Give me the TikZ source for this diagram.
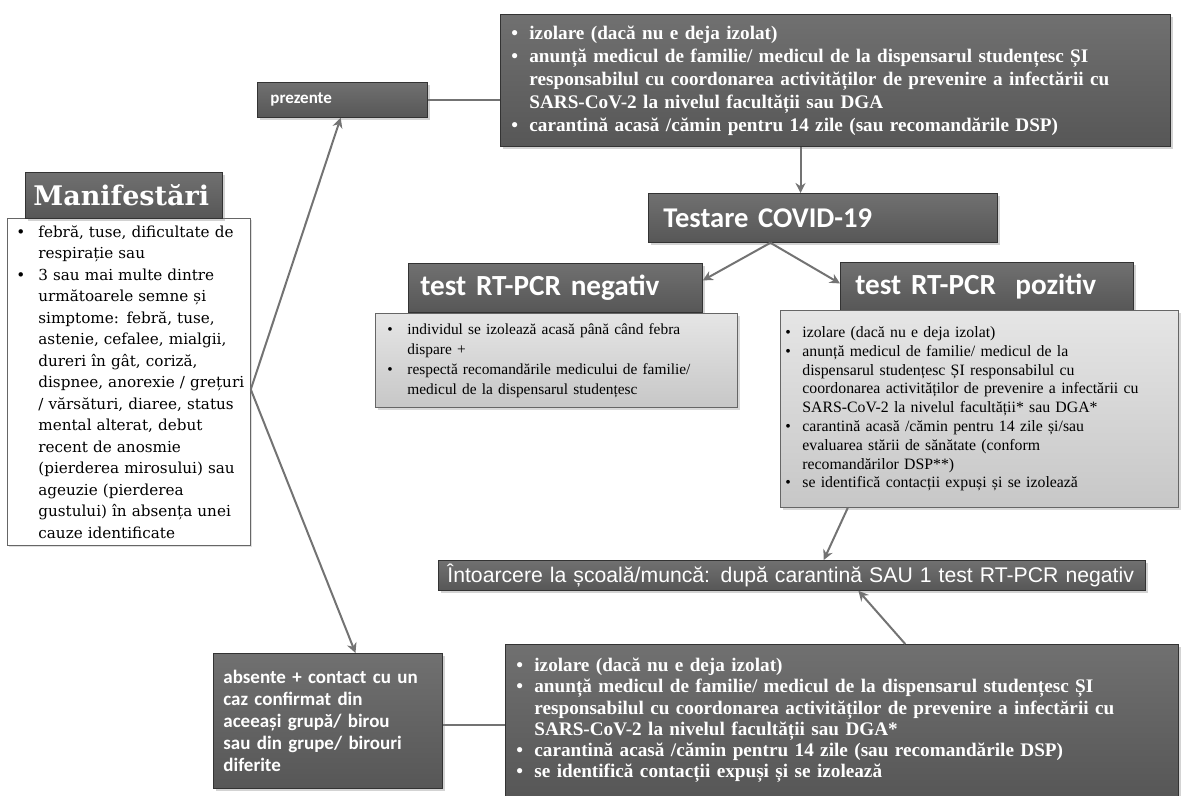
\documentclass[tikz,border=0pt]{standalone}
\usepackage{fontspec}
\setmainfont{Liberation Serif}
\newfontfamily\carlito{Carlito}
\newfontfamily\dvserif{DejaVu Serif}
\newfontfamily\libsans{Liberation Sans}
\usetikzlibrary{arrows.meta,shadows,calc}

\newlength{\du}
\setlength{\du}{0.5pt}
\newlength{\bulw}
\newcommand{\itm}[1]{\mbox{\makebox[\bulw][l]{\textbullet}#1}}
\newcommand{\cnt}[1]{\mbox{\hspace*{\bulw}#1}}

\definecolor{darktop}{rgb}{0.44,0.44,0.44}
\definecolor{darkbot}{rgb}{0.34,0.34,0.34}
\definecolor{lighttop}{rgb}{0.90,0.90,0.90}
\definecolor{lightbot}{rgb}{0.78,0.78,0.78}
\definecolor{linecolor}{rgb}{0.45,0.45,0.45}

\tikzset{
  darkbox/.style={draw=black!80, line width=0.4pt, top color=darktop, bottom color=darkbot,
    text=white, anchor=north west, inner ysep=0pt, align=left,
    drop shadow={opacity=0.35, shadow xshift=1.2pt, shadow yshift=-1.2pt}},
  lightbox/.style={draw=black!60, line width=0.4pt, top color=lighttop, bottom color=lightbot,
    anchor=north west, inner ysep=0pt, align=left,
    drop shadow={opacity=0.3, shadow xshift=1.2pt, shadow yshift=-1.2pt}},
  whitebox/.style={draw=black!60, line width=0.4pt, fill=white, anchor=north west,
    inner ysep=0pt, align=left,
    drop shadow={opacity=0.25, shadow xshift=1pt, shadow yshift=-1pt}},
  conn/.style={draw=linecolor, line width=1pt},
  arr/.style={conn, -{Stealth[length=5pt, width=5pt]}},
}

\begin{document}
\begin{tikzpicture}
\pgftransformyscale{-1.000000}
\useasboundingbox (0\du,0\du) rectangle (1183\du,796\du);

% left column
\node[whitebox, inner xsep=9\du, text width=225\du, minimum height=327\du,
  font={\setlength{\bulw}{22\du}\dvserif\fontsize{7.6}{10.75}\selectfont}]
  (manibox) at (7\du,218\du) {%
\itm{febră, tuse, dificultate de}\\
\cnt{respirație sau}\\
\itm{3 sau mai multe dintre}\\
\cnt{următoarele semne și}\\
\cnt{simptome: febră, tuse,}\\
\cnt{astenie, cefalee, mialgii,}\\
\cnt{dureri în gât, coriză,}\\
\cnt{dispnee, anorexie / grețuri}\\
\cnt{/ vărsături, diaree, status}\\
\cnt{mental alterat, debut}\\
\cnt{recent de anosmie}\\
\cnt{(pierderea mirosului) sau}\\
\cnt{ageuzie (pierderea}\\
\cnt{gustului) în absența unei}\\
\cnt{cauze identificate}};
\node[darkbox, inner xsep=8\du, text width=181\du, minimum height=46\du,
  font={\dvserif\bfseries\fontsize{13.5}{15}\selectfont}]
  (manihd) at (25\du,172\du) {Manifestări};
\coordinate (fork) at ($(manibox.north east)!0.523!(manibox.south east)$);

% prezente branch
\node[darkbox, inner xsep=13\du, text width=144\du, minimum height=35\du,
  font={\carlito\bfseries\fontsize{8.5}{10}\selectfont}]
  (prez) at (257\du,82\du) {prezente};
\node[darkbox, inner xsep=11\du, text width=648\du, minimum height=132\du,
  font={\setlength{\bulw}{18\du}\bfseries\fontsize{9.6}{11.5}\selectfont}]
  (izol) at (500\du,14\du) {%
\itm{izolare (dacă nu e deja izolat)}\\
\itm{anunță medicul de familie/ medicul de la dispensarul studențesc ȘI}\\
\cnt{responsabilul cu coordonarea activităților de prevenire a infectării cu}\\
\cnt{SARS-CoV-2 la nivelul facultății sau DGA}\\
\itm{carantină acasă /cămin pentru 14 zile (sau recomandările DSP)}};

% testing
\node[darkbox, inner xsep=15\du, text width=319\du, minimum height=49\du,
  font={\carlito\bfseries\fontsize{14.3}{16}\selectfont}]
  (test) at (648\du,193\du) {Testare COVID-19};
\node[darkbox, inner xsep=12\du, text width=270\du, minimum height=49\du,
  font={\carlito\bfseries\fontsize{14.6}{16}\selectfont}]
  (neghd) at (408\du,263\du) {test RT-PCR negativ};
\node[lightbox, inner xsep=12\du, text width=338\du, minimum height=94\du,
  font={\setlength{\bulw}{20\du}\fontsize{7.7}{10}\selectfont}]
  (negbox) at (375\du,313\du) {%
\itm{individul se izolează acasă până când febra}\\
\cnt{dispare +}\\
\itm{respectă recomandările medicului de familie/}\\
\cnt{medicul de la dispensarul studențesc}};
\node[darkbox, inner xsep=15\du, text width=263\du, minimum height=48\du,
  font={\carlito\bfseries\fontsize{14.6}{16}\selectfont}]
  (poshd) at (840\du,262\du) {test RT-PCR~~pozitiv};
\node[lightbox, inner xsep=5\du, text width=388\du, minimum height=197\du,
  font={\setlength{\bulw}{17\du}\fontsize{7.9}{9.4}\selectfont}]
  (posbox) at (780\du,310\du) {%
\itm{izolare (dacă nu e deja izolat)}\\
\itm{anunță medicul de familie/ medicul de la}\\
\cnt{dispensarul studențesc ȘI responsabilul cu}\\
\cnt{coordonarea activităților de prevenire a infectării cu}\\
\cnt{SARS-CoV-2 la nivelul facultății* sau DGA*}\\
\itm{carantină acasă /cămin pentru 14 zile și/sau}\\
\cnt{evaluarea stării de sănătate (conform}\\
\cnt{recomandărilor DSP**)}\\
\itm{se identifică contacții expuși și se izolează}};

% return
\node[darkbox, inner xsep=9\du, text width=689\du, minimum height=30\du,
  font={\libsans\fontsize{10.6}{12}\selectfont}]
  (back) at (438\du,560\du) {Întoarcere la școală/muncă: după carantină SAU 1 test RT-PCR negativ};

% absente branch
\node[darkbox, inner xsep=10\du, text width=209\du, minimum height=135\du,
  font={\carlito\bfseries\fontsize{9.5}{11}\selectfont}]
  (abs) at (213\du,653\du) {absente + contact cu un\\caz confirmat din\\aceeași grupă/ birou\\sau din grupe/ birouri\\diferite};
\node[darkbox, inner xsep=11\du, text width=651\du, minimum height=152\du,
  font={\setlength{\bulw}{18\du}\bfseries\fontsize{9.6}{10.6}\selectfont}]
  (contact) at (505\du,644\du) {%
\itm{izolare (dacă nu e deja izolat)}\\
\itm{anunță medicul de familie/ medicul de la dispensarul studențesc ȘI}\\
\cnt{responsabilul cu coordonarea activităților de prevenire a infectării cu}\\
\cnt{SARS-CoV-2 la nivelul facultății sau DGA*}\\
\itm{carantină acasă /cămin pentru 14 zile (sau recomandările DSP)}\\
\itm{se identifică contacții expuși și se izolează}\\[5pt]};

% connectors
\draw[arr] (fork) -- ($(prez.south west)!0.49!(prez.south east)$);
\draw[arr] (fork) -- ($(abs.north west)!0.62!(abs.north east)$);
\draw[conn] (prez.east) -- (prez.east -| izol.west);
\coordinate (izoldown) at ($(izol.south west)!0.448!(izol.south east)$);
\draw[arr] (izoldown) -- (izoldown |- test.north);
\coordinate (split) at ($(test.south west)!0.35!(test.south east)$);
\draw[arr] (split) -- ($(neghd.north east)!0.35!(neghd.south east)$);
\draw[arr] (split) -- ($(poshd.north west)!0.44!(poshd.south west)$);
\draw[arr] ($(posbox.south west)!0.17!(posbox.south east)$) -- ($(back.north west)!0.545!(back.north east)$);
\draw[arr] ($(contact.north west)!0.594!(contact.north east)$) -- ($(back.south west)!0.594!(back.south east)$);
\coordinate (absright) at ($(abs.north east)!0.53!(abs.south east)$);
\draw[conn] (absright) -- (absright -| contact.west);
\end{tikzpicture}
\end{document}
